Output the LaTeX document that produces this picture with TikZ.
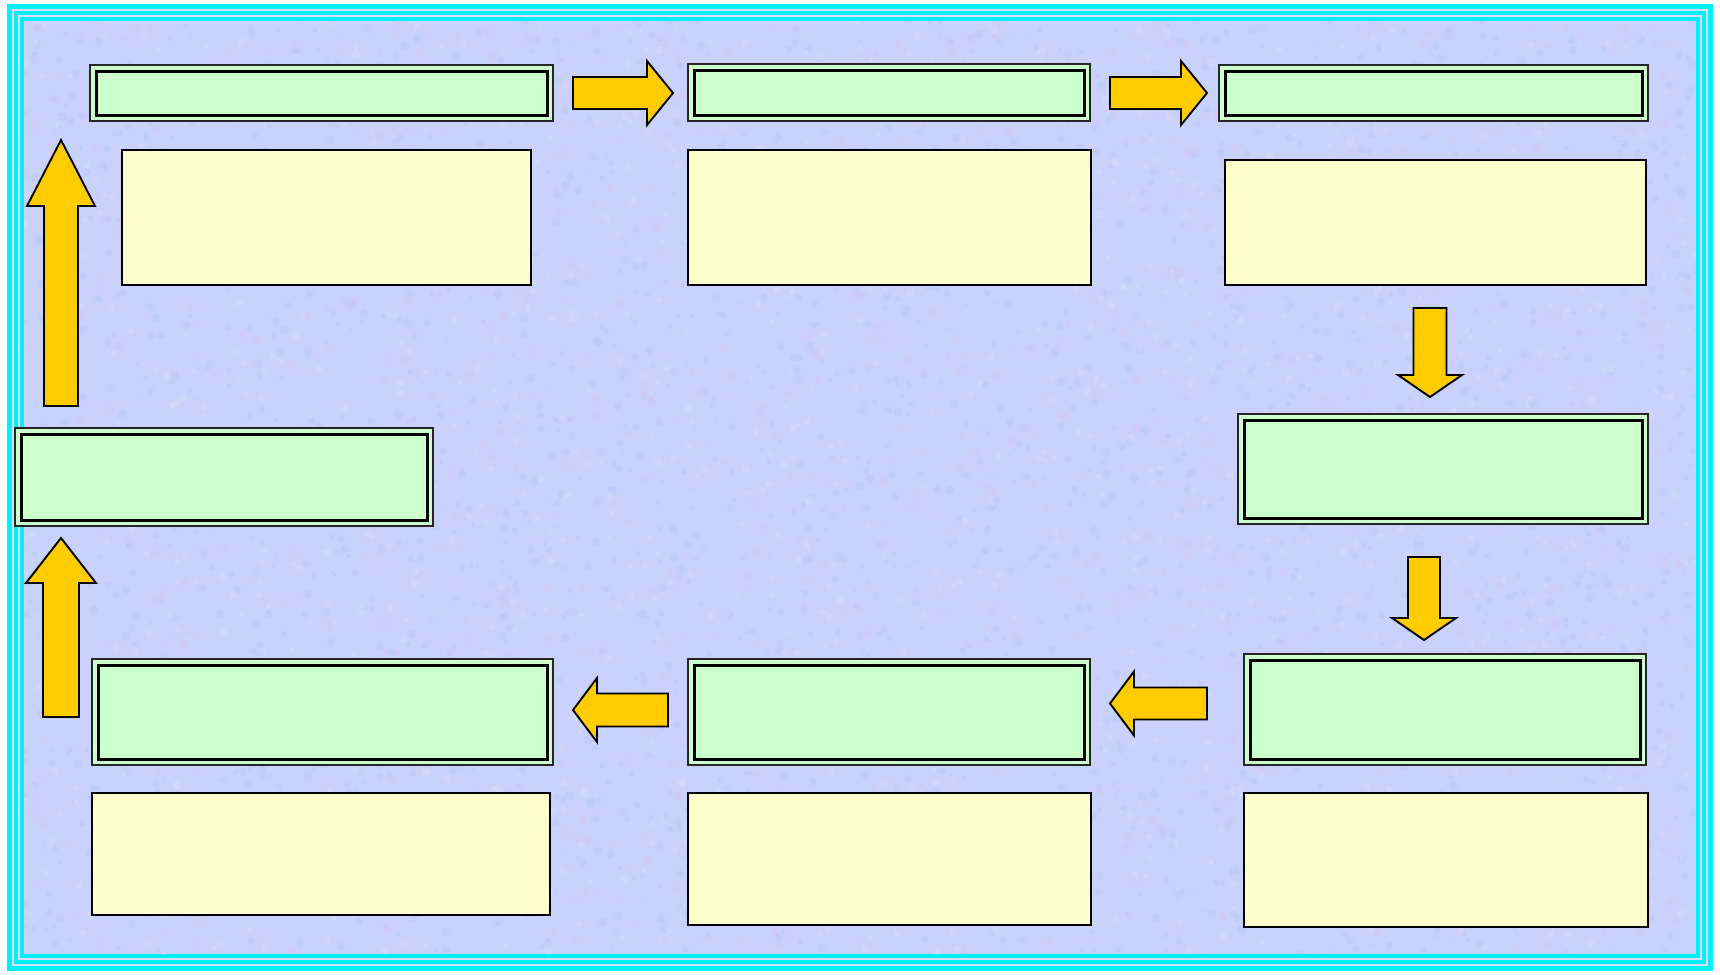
\documentclass[tikz,border=0pt]{standalone}
\usepackage{tikz}
\usetikzlibrary{calc}
\definecolor{bgblue}{RGB}{200,210,250}
\definecolor{stripe}{RGB}{216,222,252}
\definecolor{framecyan}{RGB}{0,240,255}
\definecolor{titlegreen}{RGB}{204,255,204}
\definecolor{notecream}{RGB}{255,255,206}
\definecolor{arrowgold}{RGB}{255,204,0}
\definecolor{mottlepink}{RGB}{225,190,235}
\definecolor{mottleblue}{RGB}{165,190,250}
\tikzstyle{title}=[draw=black!85, line width=1.9pt, fill=titlegreen, inner sep=0pt, outer sep=0pt,
  path picture={\draw[black, line width=3pt]
    ([shift={(6pt,-6pt)}]path picture bounding box.north west) rectangle
    ([shift={(-6pt,6pt)}]path picture bounding box.south east);}]
\tikzstyle{note}=[draw=black, line width=1.9pt, fill=notecream, inner sep=0pt, outer sep=0pt]
\tikzstyle{blockarrow}=[draw=black, line width=1.9pt, fill=arrowgold, line join=miter]
\tikzstyle{frameline}=[draw=framecyan]

% block arrow: tail, tip, shaft half width, head half width, head length
\newcommand{\blockarrow}[5]{%
  \coordinate (hb) at ($(#2)!#5!(#1)$);
  \draw[blockarrow] ($(#1)!#3!90:(#2)$) -- ($(hb)!#3!90:(#2)$) -- ($(hb)!#4!90:(#2)$)
    -- (#2) -- ($(hb)!#4!-90:(#2)$) -- ($(hb)!#3!-90:(#2)$) -- ($(#1)!#3!-90:(#2)$) -- cycle;
}

\begin{document}
\begin{tikzpicture}[x=1pt, y=-1pt]
  \useasboundingbox (0,0) rectangle (1720,974);

  % frame
  \fill[stripe] (7,4) rectangle (1713,971);
  \draw[frameline, line width=4.5pt] (9.5,6.5) rectangle (1710.5,968.5);
  \draw[frameline, line width=3.5pt] (16,13) rectangle (1704,962);
  \draw[frameline, line width=3.5pt] (22,19) rectangle (1698,956);
  \fill[bgblue] (23.75,20.75) rectangle (1696.25,954.25);

  % fine mottled texture
  \pgfmathsetseed{4711}
  \begin{scope}
    \clip (23.75,20.75) rectangle (1696.25,954.25);
    \foreach \i in {1,...,2500}
      \fill[mottleblue, opacity=0.18] (24+1672*rnd, 21+933*rnd) circle (1.5+3*rnd);
    \foreach \i in {1,...,1200}
      \fill[mottlepink, opacity=0.18] (24+1672*rnd, 21+933*rnd) circle (1.5+3*rnd);
    \foreach \i in {1,...,1500}
      \fill[white, opacity=0.12] (24+1672*rnd, 21+933*rnd) circle (1.5+3*rnd);
  \end{scope}

  % top row
  \node[title, minimum width=463pt, minimum height=56pt] (g1) at (321.5,93) {};
  \node[title, minimum width=402pt, minimum height=57pt] (g2) at (889,92.5) {};
  \node[title, minimum width=429pt, minimum height=56pt] (g3) at (1433.5,93) {};
  \node[note, minimum width=409pt, minimum height=135pt] (n1) at (326.5,217.5) {};
  \node[note, minimum width=403pt, minimum height=135pt] (n2) at (889.5,217.5) {};
  \node[note, minimum width=421pt, minimum height=125pt] (n3) at (1435.5,222.5) {};

  % right column
  \node[title, minimum width=410pt, minimum height=110pt] (g4) at (1443,469) {};
  \node[title, minimum width=402pt, minimum height=111pt] (g5) at (1445,709.5) {};
  \node[note, minimum width=404pt, minimum height=134pt] (n5) at (1446,860) {};

  % bottom row
  \node[title, minimum width=402pt, minimum height=106pt] (g6) at (889,712) {};
  \node[note, minimum width=403pt, minimum height=132pt] (n6) at (889.5,859) {};
  \node[title, minimum width=461pt, minimum height=106pt] (g7) at (322.5,712) {};
  \node[note, minimum width=458pt, minimum height=122pt] (n7) at (321,854) {};

  % left column
  \node[title, minimum width=418pt, minimum height=98pt] (g8) at (224,477) {};

  % arrows
  \coordinate (a1s) at ($(g1.east)+(20,0)$);   \coordinate (a1e) at ($(g2.west |- a1s)+(-15,0)$);
  \coordinate (a2s) at ($(g2.east |- a1s)+(20,0)$); \coordinate (a2e) at ($(g3.west |- a1s)+(-12,0)$);
  \coordinate (d1s) at (1430,308);             \coordinate (d1e) at ($(d1s |- g4.north)+(0,-17)$);
  \coordinate (d2s) at (1424,557);             \coordinate (d2e) at ($(d2s |- g5.north)+(0,-14)$);
  \coordinate (l1s) at ($(g5.west)+(-37,-6)$);  \coordinate (l1e) at ($(g6.east |- l1s)+(20,0)$);
  \coordinate (l2s) at ($(g6.west)+(-20,-2)$);  \coordinate (l2e) at ($(g7.east |- l2s)+(20,0)$);
  \coordinate (u1s) at (61,717);               \coordinate (u1e) at ($(u1s |- g8.south)+(0,12)$);
  \coordinate (u2s) at ($(u1s |- g8.north)+(0,-22)$); \coordinate (u2e) at (61,140);

  \blockarrow{a1s}{a1e}{16pt}{32pt}{26pt}
  \blockarrow{a2s}{a2e}{16pt}{32pt}{26pt}
  \blockarrow{d1s}{d1e}{16.5pt}{32pt}{22pt}
  \blockarrow{d2s}{d2e}{16pt}{32pt}{22pt}
  \blockarrow{l1s}{l1e}{16pt}{32pt}{24pt}
  \blockarrow{l2s}{l2e}{16.5pt}{32pt}{24pt}
  \blockarrow{u1s}{u1e}{18pt}{35pt}{45pt}
  \blockarrow{u2s}{u2e}{17pt}{34pt}{66pt}
\end{tikzpicture}
\end{document}
